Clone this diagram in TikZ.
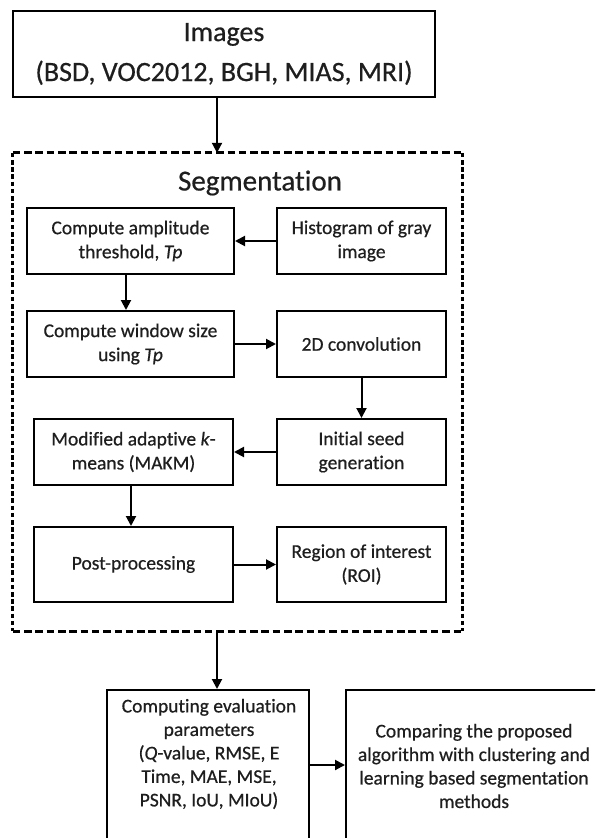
\documentclass[tikz,border=0pt]{standalone}
\usepackage{fontspec}
\setmainfont{Carlito}[Ligatures=NoCommon, FakeBold=0.6]
\usetikzlibrary{arrows.meta}
\definecolor{ink}{HTML}{1E1E1E}
\begin{document}
\begin{tikzpicture}[x=1pt,y=-1pt,
  box/.style={draw=black, line width=2pt, rectangle, align=center, inner sep=0pt,
    text=ink, font=\fontsize{19.5}{24}\selectfont},
  plain/.style={draw=black, line width=2pt, rectangle, inner sep=0pt},
  txt/.style={align=center, inner sep=0pt, text=ink, font=\fontsize{19.5}{23.5}\selectfont},
  titletext/.style={inner sep=0pt, text=ink, font=\fontsize{29}{34}\selectfont},
  flow/.style={draw=black, line width=2pt, -{Triangle[length=10pt,width=10pt]}},
  frameh/.style={draw=black, line width=3pt, dash pattern=on 7.5pt off 3.8pt},
  framev/.style={draw=black, line width=3pt, dash pattern=on 4.6pt off 2.6pt},
  lw/.style={minimum width=207pt},
  rw/.style={minimum width=169pt},
  mw/.style={minimum width=199pt},
]
\useasboundingbox (0,0) rectangle (595,838);
\clip (0,0) rectangle (595,838);

% input data
\node[box, minimum width=422pt, minimum height=86pt, font=\fontsize{28}{40}\selectfont]
  (img) at (224,54) {Images\\(BSD, VOC2012, BGH, MIAS, MRI)};

% segmentation stage frame
\node[inner sep=0pt, minimum width=449pt, minimum height=478pt] (seg) at (237.5,392) {};
\draw[frameh] (seg.north west) -- (seg.north east);
\draw[frameh] (seg.south west) -- (seg.south east);
\draw[framev] (seg.north west) -- (seg.south west);
\draw[framev] (seg.north east) -- (seg.south east);
\node[titletext] (segtitle) at (260,183) {Segmentation};

% left column
\node[box, lw, minimum height=66pt] (amp) at (130.5,241) {Compute amplitude\\threshold, \textit{Tp}};
\node[box, lw, minimum height=66pt] (win) at (130.5,344) {Compute window size\\using \textit{Tp}};
\node[box, mw, minimum height=66pt] (makm) at (133.5,452) {Modified adaptive \textit{k}-\\means (MAKM)};
\node[box, mw, minimum height=75pt] (post) at (133.5,564.5) {Post-processing};

% right column
\node[box, rw, minimum height=66pt] (hist) at (361.5,241) {Histogram of gray\\image};
\node[box, rw, minimum height=66pt] (conv) at (361.5,344) {2D convolution};
\node[box, rw, minimum height=66pt] (seed) at (361.5,452) {Initial seed\\generation};
\node[box, rw, minimum height=75pt] (roi) at (361.5,564.5) {Region of interest\\(ROI)};

% evaluation stage
\node[plain, minimum width=202pt, minimum height=160pt] (evalbox) at (208,770) {};
\node[txt] (evaltext) at (209,754) {Computing evaluation\\parameters\\(\textit{Q}-value, RMSE, E\\Time, MAE, MSE,\\PSNR, IoU, MIoU)};
\node[plain, minimum width=256pt, minimum height=160pt] (cmpbox) at (474,770) {};
\node[txt] (cmptext) at (474,766) {Comparing the proposed\\algorithm with clustering and\\learning based segmentation\\methods};

% connectors
\coordinate (ax) at (217,0);
\coordinate (ay) at (0,765);
\draw[flow] (img.south -| ax) -- (seg.north -| ax);
\draw[flow] (hist.west) -- (amp.east);
\draw[flow] ([xshift=-4.5pt]amp.south) -- ([xshift=-4.5pt]win.north);
\draw[flow] (win.east) -- (conv.west);
\draw[flow] (conv.south) -- (seed.north);
\draw[flow] (seed.west) -- (makm.east);
\draw[flow] ([xshift=-2.5pt]makm.south) -- ([xshift=-2.5pt]post.north);
\draw[flow] (post.east) -- (roi.west);
\draw[flow] (seg.south -| ax) -- (evalbox.north -| ax);
\draw[flow] (evalbox.east |- ay) -- (cmpbox.west |- ay);
\end{tikzpicture}
\end{document}
